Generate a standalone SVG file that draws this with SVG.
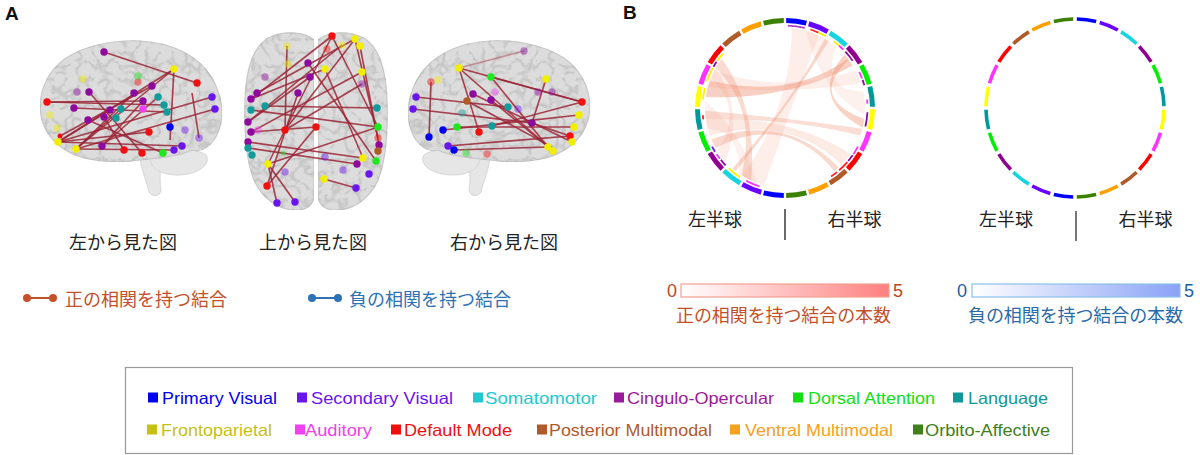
<svg xmlns="http://www.w3.org/2000/svg" xmlns:xlink="http://www.w3.org/1999/xlink" width="1200" height="455" viewBox="0 0 1200 455">
<style>
.jp{font-family:"Noto Sans CJK JP","Noto Sans CJK SC",sans-serif;font-size:18px}
.lat{font-family:"Liberation Sans",Arial,sans-serif}
.lg{font-family:"Liberation Sans",Arial,sans-serif;font-size:16.5px}
.brain{fill:#dcdcdc;stroke:#c8c8c8;stroke-width:1.2}
.stem{fill:#e6e6e6;stroke:#d6d6d6;stroke-width:1}
.ed line{stroke:#9b2335;stroke-width:1.6;stroke-opacity:.85}
.pv{fill:#0000f0}.sv{fill:#6a14ee}.sm{fill:#22c8d0}.co{fill:#8e0a9e}.da{fill:#1ee81e}.la{fill:#119c9c}
.fp{fill:#f2ee00}.au{fill:#f040f0}.dm{fill:#f01010}.pm{fill:#b05a28}.vm{fill:#ffa020}.oa{fill:#3c8000}
.dots circle{r:3.7px}
.f{opacity:.45}
.ch path{fill:#ef8f6f}
.rg1{fill:none;stroke-width:5}
.rg2{fill:none;stroke-width:3.6}
.ri{fill:none;stroke-width:1.8}
</style>
<defs>
<filter id="tex" x="0" y="0" width="1" height="1" color-interpolation-filters="sRGB">
<feTurbulence type="turbulence" baseFrequency="0.075" numOctaves="2" seed="5" result="n"/>
<feGaussianBlur in="n" stdDeviation="0.6" result="nb"/>
<feColorMatrix in="nb" type="matrix" values="0 0 0 0 0.7  0 0 0 0 0.7  0 0 0 0 0.7  -2.4 0 0 0 0.62" result="m"/>
<feComposite in="m" in2="SourceGraphic" operator="in" result="c"/>
<feMerge><feMergeNode in="SourceGraphic"/><feMergeNode in="c"/></feMerge>
</filter>
<g id="latBrain">
<path class="stem" d="M140,158 C142,172 147,182 149,192 C152,197 160,197 161,190 C159,178 160,168 164,158 Z"/>
<path class="stem" d="M150,157 C160,148 196,147 206,155 C212,165 196,175 178,175 C160,175 150,168 150,157 Z"/>
<path class="brain" filter="url(#tex)" d="M42,120 C36,96 46,72 66,58 C88,44 120,38 150,42 C182,46 206,62 216,86 C224,104 224,125 214,140 C208,148 200,152 192,150 C180,156 160,158 140,160 C120,163 95,162 78,156 C62,150 48,140 42,120 Z"/>
</g>
<path id="r1" d="M0,-87.5 A87.5,87.5 0 1 1 0,87.5 A87.5,87.5 0 1 1 0,-87.5" pathLength="360"/>
<path id="r2" d="M0,-89 A89,89 0 1 1 0,89 A89,89 0 1 1 0,-89" pathLength="360"/>
<path id="rin" d="M0,-82.5 A82.5,82.5 0 1 1 0,82.5 A82.5,82.5 0 1 1 0,-82.5" pathLength="360"/>
<linearGradient id="gr" x1="0" x2="1" y1="0" y2="0"><stop offset="0" stop-color="#ffffff"/><stop offset="1" stop-color="#ff8080"/></linearGradient>
<linearGradient id="gb" x1="0" x2="1" y1="0" y2="0"><stop offset="0" stop-color="#ffffff"/><stop offset="1" stop-color="#8aa2f6"/></linearGradient>
</defs>
<rect width="1200" height="455" fill="#ffffff"/>

<text class="lat" x="5" y="20" font-size="19" font-weight="bold" fill="#111">A</text>
<text class="lat" x="623" y="19" font-size="19" font-weight="bold" fill="#111">B</text>

<!-- Left view -->
<g id="brain-left">
<use href="#latBrain"/>
<g class="ed">
<line x1="104" y1="52" x2="197" y2="83"/>
<line x1="174" y1="69" x2="58" y2="142"/>
<line x1="174" y1="69" x2="76" y2="149"/>
<line x1="174" y1="69" x2="170" y2="140"/>
<line x1="47" y1="102" x2="164" y2="105"/>
<line x1="47" y1="102" x2="143" y2="101"/>
<line x1="212" y1="97" x2="58" y2="142"/>
<line x1="215" y1="109" x2="76" y2="149"/>
<line x1="58" y1="142" x2="182" y2="146"/>
<line x1="76" y1="149" x2="174" y2="150"/>
<line x1="89" y1="92" x2="142" y2="153"/>
<line x1="152" y1="86" x2="60" y2="136"/>
<line x1="143" y1="101" x2="102" y2="146"/>
<line x1="110" y1="110" x2="58" y2="142"/>
<line x1="74" y1="108" x2="167" y2="112"/>
<line x1="121" y1="109" x2="76" y2="149"/>
<line x1="134" y1="93" x2="76" y2="149"/>
<line x1="149" y1="132" x2="58" y2="142"/>
<line x1="88" y1="120" x2="163" y2="153"/>
<line x1="104" y1="117" x2="124" y2="150"/>
<line x1="192" y1="93" x2="199" y2="138"/>
<line x1="158" y1="97" x2="102" y2="146"/>
</g>
<g class="dots">
<circle class="fp f" cx="83" cy="79"/><circle class="dm f" cx="138" cy="82"/><circle class="da f" cx="138" cy="76"/>
<circle class="co f" cx="77" cy="92"/><circle class="fp f" cx="50" cy="115"/><circle class="sv f" cx="185" cy="130"/>
<circle class="sv f" cx="199" cy="138"/><circle class="fp f" cx="57" cy="128"/>
<circle class="co" cx="104" cy="52"/><circle class="fp" cx="174" cy="69"/><circle class="dm" cx="197" cy="83"/>
<circle class="co" cx="152" cy="86"/><circle class="co" cx="134" cy="93"/><circle class="co" cx="89" cy="92"/>
<circle class="la" cx="158" cy="97"/><circle class="la" cx="164" cy="105"/><circle class="la" cx="167" cy="112"/>
<circle class="co" cx="143" cy="101"/><circle class="dm" cx="47" cy="102"/><circle class="co" cx="74" cy="108"/>
<circle class="co" cx="110" cy="110"/><circle class="la" cx="121" cy="109"/><circle class="au" cx="143" cy="109"/>
<circle class="co" cx="104" cy="117"/><circle class="la" cx="116" cy="118"/><circle class="co" cx="88" cy="120"/>
<circle class="sv" cx="212" cy="97"/><circle class="sv" cx="215" cy="109"/><circle class="dm" cx="149" cy="132"/>
<circle class="pv" cx="170" cy="127"/><circle class="dm" cx="60" cy="136" style="r:2.5px"/>
<circle class="fp" cx="58" cy="142"/><circle class="fp" cx="76" cy="149"/><circle class="co" cx="102" cy="146"/>
<circle class="dm" cx="124" cy="150"/><circle class="dm" cx="142" cy="153"/><circle class="da" cx="163" cy="153"/>
<circle class="sv" cx="174" cy="150"/><circle class="sv" cx="182" cy="146"/>
</g>
</g>

<!-- Top view -->
<g id="brain-top">
<path class="brain" filter="url(#tex)" d="M314,40 C305,32 285,30 268,38 C252,48 246,70 245,100 C244,130 246,160 254,180 C262,198 278,210 296,210 C306,210 312,205 314,198 Z"/>
<path class="brain" filter="url(#tex)" d="M318,40 C327,32 347,30 364,38 C380,48 386,70 387,100 C388,130 386,160 378,180 C370,198 354,210 336,210 C326,210 320,205 318,198 Z"/>
<g class="ed">
<line x1="332" y1="36" x2="251" y2="99"/>
<line x1="332" y1="36" x2="268" y2="164"/>
<line x1="332" y1="36" x2="378" y2="127"/>
<line x1="355" y1="39" x2="257" y2="93"/>
<line x1="355" y1="39" x2="378" y2="138"/>
<line x1="360" y1="46" x2="379" y2="145"/>
<line x1="355" y1="39" x2="285" y2="130"/>
<line x1="362" y1="72" x2="251" y2="132"/>
<line x1="308" y1="63" x2="376" y2="161"/>
<line x1="325" y1="69" x2="363" y2="158"/>
<line x1="310" y1="77" x2="248" y2="122"/>
<line x1="298" y1="93" x2="267" y2="186"/>
<line x1="265" y1="106" x2="377" y2="108"/>
<line x1="251" y1="110" x2="378" y2="127"/>
<line x1="248" y1="142" x2="363" y2="158"/>
<line x1="248" y1="148" x2="357" y2="164"/>
<line x1="268" y1="164" x2="277" y2="203"/>
<line x1="268" y1="164" x2="295" y2="202"/>
<line x1="268" y1="164" x2="378" y2="127"/>
<line x1="324" y1="179" x2="356" y2="188"/>
<line x1="316" y1="127" x2="251" y2="132"/>
<line x1="285" y1="130" x2="362" y2="84"/>
<line x1="251" y1="99" x2="325" y2="69"/>
<line x1="342" y1="45" x2="248" y2="122"/>
<line x1="316" y1="127" x2="267" y2="186"/>
<line x1="287" y1="46" x2="285" y2="130"/>
</g>
<g class="dots">
<circle class="fp f" cx="287" cy="46"/><circle class="dm f" cx="327" cy="49"/><circle class="fp f" cx="342" cy="45"/>
<circle class="fp f" cx="288" cy="64"/><circle class="co f" cx="265" cy="77"/><circle class="co f" cx="362" cy="84"/>
<circle class="au f" cx="258" cy="130"/><circle class="dm f" cx="378" cy="138"/><circle class="da f" cx="283" cy="153" style="r:2.5px"/>
<circle class="sv f" cx="325" cy="157"/><circle class="sv f" cx="285" cy="172"/><circle class="sv f" cx="343" cy="170"/>
<circle class="dm" cx="332" cy="36"/><circle class="fp" cx="355" cy="39"/><circle class="fp" cx="360" cy="46"/>
<circle class="co" cx="308" cy="63"/><circle class="fp" cx="325" cy="69"/><circle class="co" cx="310" cy="77"/>
<circle class="fp" cx="362" cy="72"/><circle class="co" cx="298" cy="93"/><circle class="co" cx="257" cy="93"/>
<circle class="co" cx="251" cy="99"/><circle class="la" cx="265" cy="106"/><circle class="la" cx="251" cy="110"/>
<circle class="la" cx="377" cy="108"/><circle class="co" cx="248" cy="122"/><circle class="co" cx="251" cy="132"/>
<circle class="dm" cx="285" cy="130"/><circle class="dm" cx="316" cy="127"/><circle class="da" cx="378" cy="127"/>
<circle class="co" cx="379" cy="145"/><circle class="pm" cx="378" cy="151"/><circle class="co" cx="248" cy="142"/>
<circle class="la" cx="248" cy="148"/><circle class="la" cx="252" cy="155"/><circle class="fp" cx="363" cy="158"/>
<circle class="da" cx="376" cy="161"/><circle class="fp" cx="268" cy="164"/><circle class="co" cx="357" cy="164"/>
<circle class="sv" cx="369" cy="174"/><circle class="fp" cx="324" cy="179"/><circle class="sv" cx="356" cy="188"/>
<circle class="dm" cx="267" cy="186"/><circle class="sv" cx="277" cy="203"/><circle class="sv" cx="295" cy="202"/>
</g>
</g>

<!-- Right view -->
<g id="brain-right">
<use href="#latBrain" transform="translate(630,0) scale(-1,1)"/>
<g class="ed">
<line x1="524" y1="51" x2="459" y2="68" style="stroke-opacity:.4"/>
<line x1="459" y1="68" x2="582" y2="102"/>
<line x1="459" y1="68" x2="553" y2="151"/>
<line x1="459" y1="68" x2="479" y2="132"/>
<line x1="491" y1="77" x2="582" y2="102"/>
<line x1="491" y1="77" x2="548" y2="147"/>
<line x1="546" y1="79" x2="532" y2="123"/>
<line x1="431" y1="82" x2="429" y2="137"/>
<line x1="473" y1="94" x2="572" y2="142"/>
<line x1="491" y1="100" x2="553" y2="151"/>
<line x1="416" y1="97" x2="508" y2="107"/>
<line x1="413" y1="109" x2="532" y2="123"/>
<line x1="443" y1="130" x2="579" y2="115"/>
<line x1="457" y1="127" x2="574" y2="127"/>
<line x1="448" y1="146" x2="570" y2="136"/>
<line x1="454" y1="150" x2="548" y2="147"/>
<line x1="492" y1="126" x2="582" y2="102"/>
<line x1="467" y1="101" x2="552" y2="147"/>
<line x1="532" y1="123" x2="570" y2="136"/>
</g>
<g class="dots">
<circle class="co f" cx="524" cy="51"/><circle class="dm f" cx="431" cy="82"/><circle class="fp f" cx="438" cy="80"/>
<circle class="co f" cx="552" cy="92"/><circle class="co f" cx="538" cy="92"/><circle class="au f" cx="495" cy="92"/>
<circle class="la f" cx="462" cy="113"/><circle class="sv f" cx="518" cy="109"/><circle class="da f" cx="466" cy="153"/>
<circle class="dm f" cx="487" cy="154"/>
<circle class="fp" cx="459" cy="68"/><circle class="da" cx="491" cy="77"/><circle class="fp" cx="546" cy="79"/>
<circle class="sv" cx="416" cy="97"/><circle class="sv" cx="413" cy="109"/><circle class="co" cx="473" cy="94"/>
<circle class="pm" cx="467" cy="101"/><circle class="co" cx="491" cy="100"/><circle class="la" cx="508" cy="107"/>
<circle class="co" cx="532" cy="123"/><circle class="pv" cx="443" cy="130"/><circle class="da" cx="457" cy="127"/>
<circle class="dm" cx="479" cy="132"/><circle class="la" cx="492" cy="126"/><circle class="pv" cx="429" cy="137"/>
<circle class="sv" cx="448" cy="146"/><circle class="pv" cx="454" cy="150"/><circle class="fp" cx="548" cy="147"/>
<circle class="fp" cx="553" cy="151"/><circle class="dm" cx="582" cy="102"/><circle class="fp" cx="579" cy="115"/>
<circle class="fp" cx="574" cy="127"/><circle class="dm" cx="570" cy="136"/><circle class="fp" cx="572" cy="142"/>
</g>
</g>

<text class="jp" x="123" y="248.5" text-anchor="middle" fill="#222">左から見た図</text>
<text class="jp" x="313" y="248.5" text-anchor="middle" fill="#222">上から見た図</text>
<text class="jp" x="504" y="248.5" text-anchor="middle" fill="#222">右から見た図</text>

<g id="legend-pos">
<line x1="27" y1="298" x2="53" y2="298" stroke="#c4502a" stroke-width="2"/>
<circle cx="27" cy="298" r="4" fill="#c4502a"/><circle cx="53" cy="298" r="4" fill="#c4502a"/>
<text class="jp" x="65" y="305.5" fill="#c4502a">正の相関を持つ結合</text>
</g>
<g id="legend-neg">
<line x1="312" y1="298" x2="338" y2="298" stroke="#2c72b5" stroke-width="2"/>
<circle cx="312" cy="298" r="4" fill="#2c72b5"/><circle cx="338" cy="298" r="4" fill="#2c72b5"/>
<text class="jp" x="349" y="305.5" fill="#2c72b5">負の相関を持つ結合</text>
</g>

<!-- Circle 1 -->
<g id="circle-positive">
<g class="ch">
<path opacity=".12" d="M805.7,30.7 A80,80 0 0 1 836.4,46.7 Q820,90 863.2,91.4 A80,80 0 0 1 864.7,115 Q820,90 805.7,30.7 Z"/>
<path opacity=".12" d="M757.6,183.2 A80,80 0 0 1 739.1,173.5 Q740,130 707.7,128.7 A80,80 0 0 1 705.3,101 Q740,130 757.6,183.2 Z"/>
<path opacity=".15" d="M792,28.3 A80,80 0 0 1 818.8,35.5 Q790,110 764.3,185.3 A80,80 0 0 1 742.6,175.8 Q790,110 792,28.3 Z"/>
<path opacity=".18" d="M850.5,153.9 A80,80 0 0 1 841.6,164.6 Q790,115 709.8,135.4 A80,80 0 0 1 705.8,119.1 Q790,115 850.5,153.9 Z"/>
<path opacity=".15" d="M707.7,87.3 A80,80 0 0 1 714.4,70.5 Q785,95 855.6,70.5 A80,80 0 0 1 861.1,83.3 Q785,95 707.7,87.3 Z"/>
<path opacity=".15" d="M725.6,161.5 A80,80 0 0 1 717.2,150.4 Q745,110 710.8,78 A80,80 0 0 1 715.7,68 Q745,110 725.6,161.5 Z"/>
<path opacity=".42" d="M705.8,96.9 A80,80 0 0 1 709.8,80.6 Q790,100 848,58.7 A80,80 0 0 1 852.8,65.6 Q790,100 705.8,96.9 Z"/>
<path opacity=".32" d="M715.7,68 A80,80 0 0 1 722,58.7 Q758,110 751.2,180.5 A80,80 0 0 1 741.4,175.1 Q758,110 715.7,68 Z"/>
<path opacity=".4" d="M844.4,54.5 A80,80 0 0 1 848.9,59.8 Q808,98 864.2,119.1 A80,80 0 0 1 862.6,127.4 Q808,98 844.4,54.5 Z"/>
<path opacity=".3" d="M705.8,119.1 A80,80 0 0 1 705.1,110.8 Q790,118 862.3,128.7 A80,80 0 0 1 860.2,135.4 Q790,118 705.8,119.1 Z"/>
<path opacity=".35" d="M715.7,148 A80,80 0 0 1 711.3,139.3 Q785,112 838.5,167.4 A80,80 0 0 1 834.3,171 Q785,112 715.7,148 Z"/>
<path opacity=".35" d="M735.7,171 A80,80 0 0 1 732.5,168.4 Q790,105 825,38.7 A80,80 0 0 1 828.6,40.9 Q790,105 735.7,171 Z"/>
</g>
<g transform="translate(785,108)">
<use href="#rin" class="ri" stroke="#b040d0" stroke-dasharray="12 348" stroke-dashoffset="-2"/>
<use href="#rin" class="ri" stroke="#ff2020" stroke-dasharray="6 354" stroke-dashoffset="-18"/>
<use href="#rin" class="ri" stroke="#ffee00" stroke-dasharray="6 354" stroke-dashoffset="-24"/>
<use href="#rin" class="ri" stroke="#ffee00" stroke-dasharray="5 355" stroke-dashoffset="-36"/>
<use href="#rin" class="ri" stroke="#ff33ff" stroke-dasharray="4 356" stroke-dashoffset="-41"/>
<use href="#rin" class="ri" stroke="#8e0a9e" stroke-dasharray="8 352" stroke-dashoffset="-47"/>
<use href="#rin" class="ri" stroke="#ff33ff" stroke-dasharray="5 355" stroke-dashoffset="-64"/>
<use href="#rin" class="ri" stroke="#8e0a9e" stroke-dasharray="4 356" stroke-dashoffset="-70"/>
<use href="#rin" class="ri" stroke="#ff33ff" stroke-dasharray="3 357" stroke-dashoffset="-84"/>
<use href="#rin" class="ri" stroke="#8e0a9e" stroke-dasharray="10 350" stroke-dashoffset="-93"/>
<use href="#rin" class="ri" stroke="#ff33ff" stroke-dasharray="6 354" stroke-dashoffset="-118"/>
<use href="#rin" class="ri" stroke="#8e0a9e" stroke-dasharray="5 355" stroke-dashoffset="-125"/>
<use href="#rin" class="ri" stroke="#ff2020" stroke-dasharray="8 352" stroke-dashoffset="-131"/>
<use href="#rin" class="ri" stroke="#ff2020" stroke-dasharray="5 355" stroke-dashoffset="-141"/>
<use href="#rin" class="ri" stroke="#ff33ff" stroke-dasharray="10 350" stroke-dashoffset="-198"/>
<use href="#rin" class="ri" stroke="#ffee00" stroke-dasharray="10 350" stroke-dashoffset="-213"/>
<use href="#rin" class="ri" stroke="#8e0a9e" stroke-dasharray="5 355" stroke-dashoffset="-226"/>
<use href="#rin" class="ri" stroke="#ff33ff" stroke-dasharray="4 356" stroke-dashoffset="-232"/>
<use href="#rin" class="ri" stroke="#6a14ee" stroke-dasharray="4 356" stroke-dashoffset="-238"/>
<use href="#rin" class="ri" stroke="#ff2020" stroke-dasharray="3 357" stroke-dashoffset="-262"/>
<use href="#rin" class="ri" stroke="#ffee00" stroke-dasharray="8 352" stroke-dashoffset="-276"/>
<use href="#rin" class="ri" stroke="#ffee00" stroke-dasharray="10 350" stroke-dashoffset="-289"/>
<use href="#rin" class="ri" stroke="#8e0a9e" stroke-dasharray="4 356" stroke-dashoffset="-300"/>
<use href="#rin" class="ri" stroke="#ffee00" stroke-dasharray="6 354" stroke-dashoffset="-305"/>
<use href="#r1" class="rg1" stroke="#0000ff" stroke-dasharray="13.4 166.6" stroke-dashoffset="-0.8"/>
<use href="#r1" class="rg1" stroke="#6a00ff" stroke-dasharray="13.4 166.6" stroke-dashoffset="-15.8"/>
<use href="#r1" class="rg1" stroke="#18d4e0" stroke-dasharray="13.4 166.6" stroke-dashoffset="-30.8"/>
<use href="#r1" class="rg1" stroke="#900090" stroke-dasharray="13.4 166.6" stroke-dashoffset="-45.8"/>
<use href="#r1" class="rg1" stroke="#00ee00" stroke-dasharray="13.4 166.6" stroke-dashoffset="-60.8"/>
<use href="#r1" class="rg1" stroke="#009999" stroke-dasharray="13.4 166.6" stroke-dashoffset="-75.8"/>
<use href="#r1" class="rg1" stroke="#ffff00" stroke-dasharray="13.4 166.6" stroke-dashoffset="-90.8"/>
<use href="#r1" class="rg1" stroke="#ff33ff" stroke-dasharray="13.4 166.6" stroke-dashoffset="-105.8"/>
<use href="#r1" class="rg1" stroke="#ff0000" stroke-dasharray="13.4 166.6" stroke-dashoffset="-120.8"/>
<use href="#r1" class="rg1" stroke="#b05a28" stroke-dasharray="13.4 166.6" stroke-dashoffset="-135.8"/>
<use href="#r1" class="rg1" stroke="#ffa000" stroke-dasharray="13.4 166.6" stroke-dashoffset="-150.8"/>
<use href="#r1" class="rg1" stroke="#3c8000" stroke-dasharray="13.4 166.6" stroke-dashoffset="-165.8"/>
</g>
<text class="jp" x="715" y="225.5" text-anchor="middle" fill="#222">左半球</text>
<text class="jp" x="854.5" y="225.5" text-anchor="middle" fill="#222">右半球</text>
<line x1="785" y1="209" x2="785" y2="240" stroke="#444" stroke-width="1.6"/>
</g>

<!-- Circle 2 -->
<g id="circle-negative">
<g transform="translate(1075,108)">
<use href="#r2" class="rg2" stroke="#0000ff" stroke-dasharray="12.6 167.4" stroke-dashoffset="-1.2"/>
<use href="#r2" class="rg2" stroke="#6a00ff" stroke-dasharray="12.6 167.4" stroke-dashoffset="-16.2"/>
<use href="#r2" class="rg2" stroke="#18d4e0" stroke-dasharray="12.6 167.4" stroke-dashoffset="-31.2"/>
<use href="#r2" class="rg2" stroke="#900090" stroke-dasharray="12.6 167.4" stroke-dashoffset="-46.2"/>
<use href="#r2" class="rg2" stroke="#00ee00" stroke-dasharray="12.6 167.4" stroke-dashoffset="-61.2"/>
<use href="#r2" class="rg2" stroke="#009999" stroke-dasharray="12.6 167.4" stroke-dashoffset="-76.2"/>
<use href="#r2" class="rg2" stroke="#ffff00" stroke-dasharray="12.6 167.4" stroke-dashoffset="-91.2"/>
<use href="#r2" class="rg2" stroke="#ff33ff" stroke-dasharray="12.6 167.4" stroke-dashoffset="-106.2"/>
<use href="#r2" class="rg2" stroke="#ff0000" stroke-dasharray="12.6 167.4" stroke-dashoffset="-121.2"/>
<use href="#r2" class="rg2" stroke="#b05a28" stroke-dasharray="12.6 167.4" stroke-dashoffset="-136.2"/>
<use href="#r2" class="rg2" stroke="#ffa000" stroke-dasharray="12.6 167.4" stroke-dashoffset="-151.2"/>
<use href="#r2" class="rg2" stroke="#3c8000" stroke-dasharray="12.6 167.4" stroke-dashoffset="-166.2"/>
</g>
<text class="jp" x="1006" y="225.5" text-anchor="middle" fill="#222">左半球</text>
<text class="jp" x="1145.5" y="225.5" text-anchor="middle" fill="#222">右半球</text>
<line x1="1076" y1="211" x2="1076" y2="241" stroke="#777" stroke-width="2"/>
</g>

<!-- Colorbars -->
<g id="colorbar-pos">
<rect x="681" y="284" width="208" height="13" fill="url(#gr)" stroke="#f0a090" stroke-width="1.2"/>
<text class="lat" x="677" y="297" font-size="18" text-anchor="end" fill="#c0461e">0</text>
<text class="lat" x="893" y="297" font-size="18" fill="#c0461e">5</text>
<text class="jp" x="676" y="322" textLength="215" fill="#c4502a">正の相関を持つ結合の本数</text>
</g>
<g id="colorbar-neg">
<rect x="972" y="284" width="208" height="13" fill="url(#gb)" stroke="#8cc0ea" stroke-width="1.2"/>
<text class="lat" x="967" y="297" font-size="18" text-anchor="end" fill="#1f5fa0">0</text>
<text class="lat" x="1184" y="297" font-size="18" fill="#1f5fa0">5</text>
<text class="jp" x="968" y="322" textLength="215" fill="#2a6aa8">負の相関を持つ結合の本数</text>
</g>

<!-- Network legend -->
<g id="network-legend">
<rect x="125.5" y="367.5" width="947" height="86" fill="#fff" stroke="#999" stroke-width="1.2"/>
<rect x="148" y="392.5" width="10" height="10" fill="#0000ee"/>
<text class="lg" x="162" y="403.5" textLength="115" lengthAdjust="spacingAndGlyphs" fill="#0000ee">Primary Visual</text>
<rect x="297" y="392.5" width="10" height="10" fill="#6a14ee"/>
<text class="lg" x="311" y="403.5" textLength="142" lengthAdjust="spacingAndGlyphs" fill="#6a14ee">Secondary Visual</text>
<rect x="473" y="392.5" width="10" height="10" fill="#22c8d0"/>
<text class="lg" x="485" y="403.5" textLength="112" lengthAdjust="spacingAndGlyphs" fill="#22c8d0">Somatomotor</text>
<rect x="614" y="392.5" width="10" height="10" fill="#9a1a9a"/>
<text class="lg" x="627" y="403.5" textLength="147" lengthAdjust="spacingAndGlyphs" fill="#9a1a9a">Cingulo-Opercular</text>
<rect x="793" y="392.5" width="10" height="10" fill="#10e010"/>
<text class="lg" x="808" y="403.5" textLength="127" lengthAdjust="spacingAndGlyphs" fill="#10e010">Dorsal Attention</text>
<rect x="953" y="392.5" width="10" height="10" fill="#109898"/>
<text class="lg" x="968" y="403.5" textLength="80" lengthAdjust="spacingAndGlyphs" fill="#109898">Language</text>

<rect x="147" y="424.5" width="10" height="10" fill="#c8c010"/>
<text class="lg" x="161" y="435.5" textLength="111" lengthAdjust="spacingAndGlyphs" fill="#c8c010">Frontoparietal</text>
<rect x="295" y="424.5" width="10" height="10" fill="#f040f0"/>
<text class="lg" x="305" y="435.5" textLength="67" lengthAdjust="spacingAndGlyphs" fill="#f040f0">Auditory</text>
<rect x="391" y="424.5" width="10" height="10" fill="#ee1010"/>
<text class="lg" x="404" y="435.5" textLength="108" lengthAdjust="spacingAndGlyphs" fill="#ee1010">Default Mode</text>
<rect x="537" y="424.5" width="10" height="10" fill="#b05a2a"/>
<text class="lg" x="549" y="435.5" textLength="163" lengthAdjust="spacingAndGlyphs" fill="#b05a2a">Posterior Multimodal</text>
<rect x="730" y="424.5" width="10" height="10" fill="#f8a020"/>
<text class="lg" x="745" y="435.5" textLength="148" lengthAdjust="spacingAndGlyphs" fill="#f8a020">Ventral Multimodal</text>
<rect x="913" y="424.5" width="10" height="10" fill="#408018"/>
<text class="lg" x="925" y="435.5" textLength="125" lengthAdjust="spacingAndGlyphs" fill="#408018">Orbito-Affective</text>
</g>
</svg>
